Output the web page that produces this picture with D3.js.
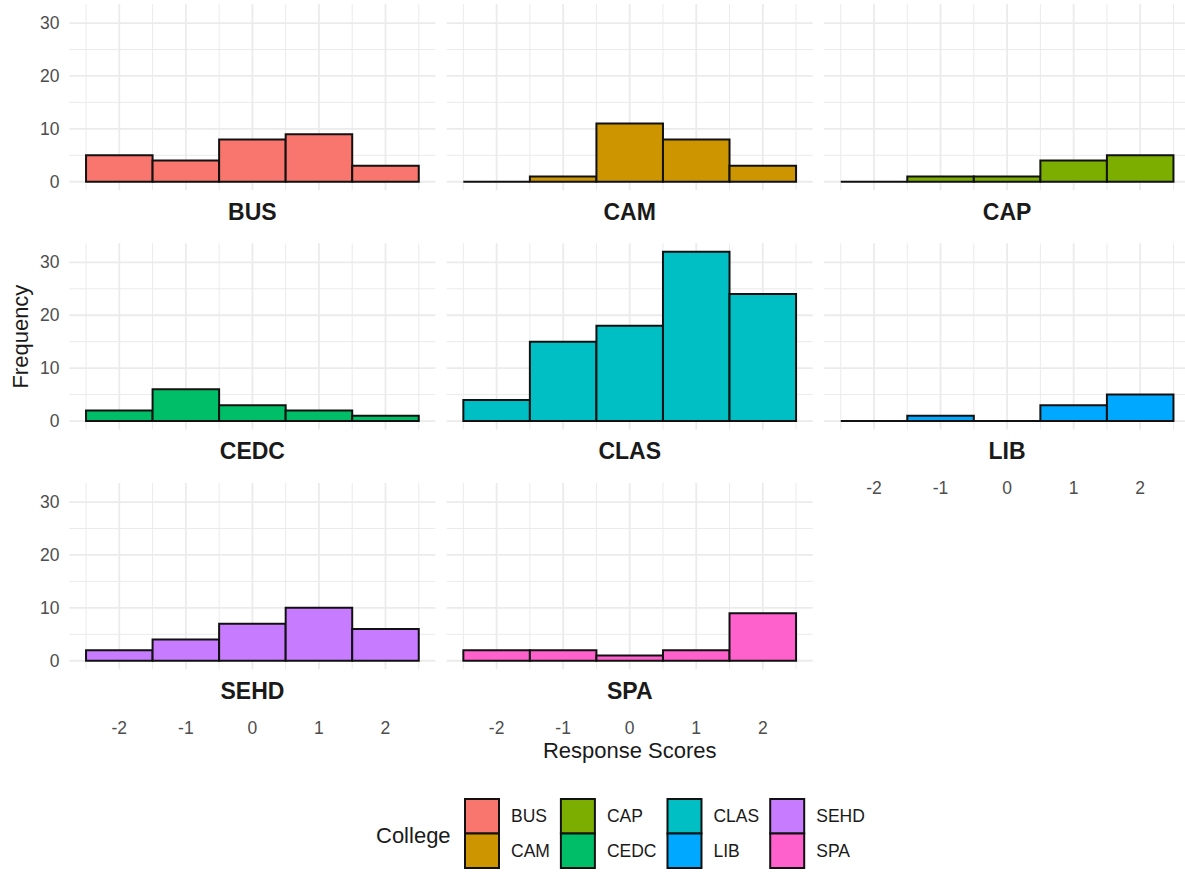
<!DOCTYPE html>
<html>
<head>
<meta charset="utf-8">
<script src="https://cdn.jsdelivr.net/npm/d3@7"></script>
<style>
  html, body { margin: 0; padding: 0; background: #fff; }
  svg { display: block; }
  text { font-family: "Liberation Sans", Arial, sans-serif; }
</style>
</head>
<body>
<svg id="chart" width="1185" height="872"></svg>
<script>
// ---- data ----
const colleges = ["BUS", "CAM", "CAP", "CEDC", "CLAS", "LIB", "SEHD", "SPA"];
const scores = [-2, -1, 0, 1, 2];
const BUS  = [5, 4, 8, 9, 3];
const CAM  = [0, 1, 11, 8, 3];
const CAP  = [0, 1, 1, 4, 5];
const CEDC = [2, 6, 3, 2, 1];
const CLAS = [4, 15, 18, 32, 24];
const LIB  = [0, 1, 0, 3, 5];
const SEHD = [2, 4, 7, 10, 6];
const SPA  = [2, 2, 1, 2, 9];
const colors = ["#F8766D", "#CD9600", "#7CAE00", "#00BE67", "#00BFC4", "#00A9FF", "#C77CFF", "#FF61CC"];
const yTicks = [0, 10, 20, 30];
const xTicks = [-2, -1, 0, 1, 2];

const counts = { BUS, CAM, CAP, CEDC, CLAS, LIB, SEHD, SPA };

// ---- layout ----
const svg = d3.select("#chart");
const panelW = 366, panelH = 186.2;
const colX = [69.4, 446.7, 824.1];
const rowY = [4.0, 243.3, 483.0];
const x = d3.scaleLinear().domain([-2.75, 2.75]).range([0, panelW]);
const y = d3.scaleLinear().domain([-1.6, 33.6]).range([panelH, 0]);
const color = d3.scaleOrdinal().domain(colleges).range(colors);

const nCol = 3;
colleges.forEach((c, i) => {
  const col = i % nCol, row = Math.floor(i / nCol);
  const g = svg.append("g").attr("transform", `translate(${colX[col]},${rowY[row]})`);

  // minor grid
  const minorX = d3.range(-2.5, 2.51, 1);
  const minorY = [5, 15, 25];
  g.selectAll(".mx").data(minorX).join("line")
    .attr("x1", d => x(d)).attr("x2", d => x(d)).attr("y1", 0).attr("y2", panelH)
    .attr("stroke", "#EBEBEB").attr("stroke-width", 1);
  g.selectAll(".my").data(minorY).join("line")
    .attr("x1", 0).attr("x2", panelW).attr("y1", d => y(d)).attr("y2", d => y(d))
    .attr("stroke", "#EBEBEB").attr("stroke-width", 1);
  // major grid
  g.selectAll(".Mx").data(xTicks).join("line")
    .attr("x1", d => x(d)).attr("x2", d => x(d)).attr("y1", 0).attr("y2", panelH)
    .attr("stroke", "#EBEBEB").attr("stroke-width", 1.8);
  g.selectAll(".My").data(yTicks).join("line")
    .attr("x1", 0).attr("x2", panelW).attr("y1", d => y(d)).attr("y2", d => y(d))
    .attr("stroke", "#EBEBEB").attr("stroke-width", 1.8);

  // bars
  const vals = counts[c];
  g.selectAll(".bar").data(scores.map((s, k) => ({ s, v: vals[k] }))).join("path")
    .attr("d", d => {
      const x0 = x(d.s - 0.5), x1 = x(d.s + 0.5), y0 = y(0), y1 = y(d.v);
      return `M${x0},${y0}L${x0},${y1}L${x1},${y1}L${x1},${y0}Z`;
    })
    .attr("fill", color(c))
    .attr("stroke", "#111")
    .attr("stroke-width", 2)
    .attr("stroke-linejoin", "miter");

  // y tick labels (first column only)
  if (col === 0) {
    g.selectAll(".yl").data(yTicks).join("text")
      .attr("x", -10).attr("y", d => y(d)).attr("dy", "0.35em")
      .attr("text-anchor", "end").attr("font-size", 17.5).attr("fill", "#4D4D4D")
      .text(d => d);
  }

  // strip label (bottom)
  g.append("text")
    .attr("x", panelW / 2).attr("y", panelH + 30)
    .attr("text-anchor", "middle").attr("font-size", 23).attr("font-weight", "bold")
    .attr("fill", "#1A1A1A").text(c);

  // x tick labels for bottom-most panel of each column
  const isBottom = (i + nCol) >= colleges.length;
  if (isBottom) {
    g.selectAll(".xl").data(xTicks).join("text")
      .attr("x", d => x(d)).attr("y", panelH + 65)
      .attr("text-anchor", "middle").attr("font-size", 17.5).attr("fill", "#4D4D4D")
      .text(d => d);
  }
});

// axis titles
svg.append("text")
  .attr("x", (colX[0] + colX[2] + panelW) / 2).attr("y", 758)
  .attr("text-anchor", "middle").attr("font-size", 22).attr("fill", "#1A1A1A")
  .text("Response Scores");
svg.append("text")
  .attr("transform", `translate(28,${(rowY[0] + rowY[2] + panelH) / 2}) rotate(-90)`)
  .attr("text-anchor", "middle").attr("font-size", 22).attr("fill", "#1A1A1A")
  .text("Frequency");

// legend
const leg = svg.append("g");
leg.append("text").attr("x", 376).attr("y", 843)
  .attr("font-size", 22).attr("fill", "#1A1A1A").text("College");
const keyW = 34, keyH = 34.5, keyTop = 799;
let cx = 465;
for (let colI = 0; colI < 4; colI++) {
  let maxW = 0;
  for (let r = 0; r < 2; r++) {
    const c = colleges[colI * 2 + r];
    leg.append("rect").attr("x", cx).attr("y", keyTop + r * keyH)
      .attr("width", keyW).attr("height", keyH)
      .attr("fill", color(c)).attr("stroke", "#111").attr("stroke-width", 2);
    const t = leg.append("text").attr("x", cx + keyW + 12).attr("y", keyTop + r * keyH + keyH / 2)
      .attr("dy", "0.35em").attr("font-size", 17.5).attr("fill", "#1A1A1A").text(c);
    maxW = Math.max(maxW, t.node().getComputedTextLength());
  }
  cx = cx + keyW + 12 + maxW + 11;
}
</script>
</body>
</html>
